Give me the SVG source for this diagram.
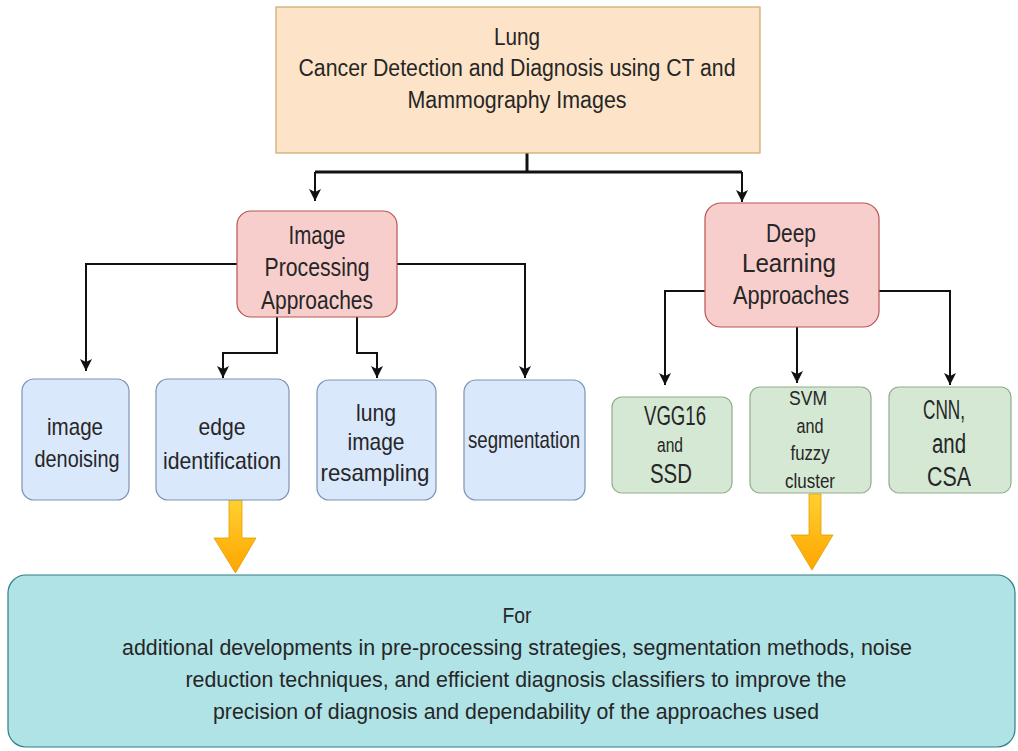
<svg xmlns="http://www.w3.org/2000/svg" width="1018" height="751" viewBox="0 0 1018 751">
  <defs>
    <style>
      text { font-family: "Liberation Sans", Arial, sans-serif; fill: #262626; text-anchor: middle; }
      .top { fill: #fde4c8; stroke: #c9a86c; stroke-width: 1.2; }
      .red { fill: #f8cecc; stroke: #b85450; stroke-width: 1.2; }
      .blue { fill: #dae8fc; stroke: #7d93b5; stroke-width: 1.2; }
      .green { fill: #d5e8d4; stroke: #8fae88; stroke-width: 1.2; }
      .teal { fill: #b0e3e6; stroke: #2f7f86; stroke-width: 1.2; }
      .conn { fill: none; stroke: #111; stroke-width: 2; }
      .thick { fill: none; stroke: #111; stroke-width: 3; }
      .big { fill: url(#ygrad); stroke: #e0a000; stroke-width: 0.8; }
    </style>
    <marker id="arr" markerUnits="userSpaceOnUse" markerWidth="12" markerHeight="12" viewBox="0 0 12 12" refX="12" refY="6" orient="auto">
      <path d="M0,0 L12,6 L0,12 L3,6 z" fill="#111"/>
    </marker>
    <linearGradient id="ygrad" x1="0" y1="0" x2="0" y2="1">
      <stop offset="0" stop-color="#ffd030"/>
      <stop offset="1" stop-color="#ffa500"/>
    </linearGradient>
  </defs>

  <g id="connectors">
    <path class="thick" d="M527,153 V172"/>
    <path class="thick" d="M315,172 H742"/>
    <path class="conn" d="M315,172 V201" marker-end="url(#arr)"/>
    <path class="conn" d="M742,172 V202" marker-end="url(#arr)"/>
    <path class="conn" d="M237,264 H86 V371" marker-end="url(#arr)"/>
    <path class="conn" d="M277,317 V353 H223 V378" marker-end="url(#arr)"/>
    <path class="conn" d="M357,317 V353 H377 V378" marker-end="url(#arr)"/>
    <path class="conn" d="M397,264 H525 V378" marker-end="url(#arr)"/>
    <path class="conn" d="M705,291 H665 V385" marker-end="url(#arr)"/>
    <path class="conn" d="M797,327 V383" marker-end="url(#arr)"/>
    <path class="conn" d="M879,291 H950 V385" marker-end="url(#arr)"/>
    <path id="bigarrow1" class="big" d="M229,500 H242 V538 H256 L235.5,573 L214,538 H229 Z"/>
    <path id="bigarrow2" class="big" d="M809,494 H821 V535 H833 L812,570 L791,535 H809 Z"/>
  </g>

  <g id="node-root">
    <rect class="top" x="276" y="7" width="484" height="146"/>
    <text x="517" y="45" font-size="23" textLength="46" lengthAdjust="spacingAndGlyphs">Lung</text>
    <text x="517" y="76" font-size="23" textLength="437" lengthAdjust="spacingAndGlyphs">Cancer Detection and Diagnosis using CT and</text>
    <text x="517" y="108" font-size="23" textLength="219" lengthAdjust="spacingAndGlyphs">Mammography Images</text>
  </g>

  <g id="node-image-processing">
    <rect class="red" x="237" y="211" width="160" height="106" rx="14"/>
    <text x="317" y="244" font-size="26" textLength="57" lengthAdjust="spacingAndGlyphs">Image</text>
    <text x="317" y="276" font-size="26" textLength="105" lengthAdjust="spacingAndGlyphs">Processing</text>
    <text x="317" y="309" font-size="26" textLength="112" lengthAdjust="spacingAndGlyphs">Approaches</text>
  </g>

  <g id="node-deep-learning">
    <rect class="red" x="705" y="203" width="174" height="124" rx="16"/>
    <text x="791" y="242" font-size="26" textLength="50" lengthAdjust="spacingAndGlyphs">Deep</text>
    <text x="789" y="272" font-size="26" textLength="94" lengthAdjust="spacingAndGlyphs">Learning</text>
    <text x="791" y="304" font-size="26" textLength="116" lengthAdjust="spacingAndGlyphs">Approaches</text>
  </g>

  <g id="node-denoising">
    <rect class="blue" x="22" y="379" width="107" height="121" rx="12"/>
    <text x="75" y="435" font-size="24" textLength="56" lengthAdjust="spacingAndGlyphs">image</text>
    <text x="77" y="467" font-size="24" textLength="85" lengthAdjust="spacingAndGlyphs">denoising</text>
  </g>

  <g id="node-edge">
    <rect class="blue" x="156" y="379" width="133" height="121" rx="12"/>
    <text x="222" y="435" font-size="24" textLength="47" lengthAdjust="spacingAndGlyphs">edge</text>
    <text x="222" y="469" font-size="24" textLength="118" lengthAdjust="spacingAndGlyphs">identification</text>
  </g>

  <g id="node-resampling">
    <rect class="blue" x="317" y="380" width="119" height="120" rx="12"/>
    <text x="376" y="421" font-size="24" textLength="40" lengthAdjust="spacingAndGlyphs">lung</text>
    <text x="376" y="450" font-size="24" textLength="57" lengthAdjust="spacingAndGlyphs">image</text>
    <text x="375" y="481" font-size="24" textLength="109" lengthAdjust="spacingAndGlyphs">resampling</text>
  </g>

  <g id="node-segmentation">
    <rect class="blue" x="464" y="380" width="121" height="120" rx="12"/>
    <text x="524" y="448" font-size="24" textLength="112" lengthAdjust="spacingAndGlyphs">segmentation</text>
  </g>

  <g id="node-vgg">
    <rect class="green" x="612" y="397" width="120" height="96" rx="10"/>
    <text x="675" y="425" font-size="27" textLength="62" lengthAdjust="spacingAndGlyphs">VGG16</text>
    <text x="670" y="452" font-size="20" textLength="26" lengthAdjust="spacingAndGlyphs">and</text>
    <text x="671" y="483" font-size="27" textLength="42" lengthAdjust="spacingAndGlyphs">SSD</text>
  </g>

  <g id="node-svm">
    <rect class="green" x="750" y="387" width="121" height="106" rx="10"/>
    <text x="808" y="405" font-size="20" textLength="38" lengthAdjust="spacingAndGlyphs">SVM</text>
    <text x="810" y="433" font-size="20" textLength="27" lengthAdjust="spacingAndGlyphs">and</text>
    <text x="810" y="460" font-size="20" textLength="39" lengthAdjust="spacingAndGlyphs">fuzzy</text>
    <text x="810" y="488" font-size="20" textLength="50" lengthAdjust="spacingAndGlyphs">cluster</text>
  </g>

  <g id="node-cnn">
    <rect class="green" x="889" y="387" width="122" height="106" rx="10"/>
    <text x="944" y="419" font-size="27" textLength="42" lengthAdjust="spacingAndGlyphs">CNN,</text>
    <text x="949" y="453" font-size="27" textLength="34" lengthAdjust="spacingAndGlyphs">and</text>
    <text x="949" y="486" font-size="27" textLength="44" lengthAdjust="spacingAndGlyphs">CSA</text>
  </g>

  <g id="node-conclusion">
    <rect class="teal" x="8" y="575" width="1007" height="172" rx="18"/>
    <text x="517" y="623" font-size="22" textLength="29" lengthAdjust="spacingAndGlyphs">For</text>
    <text x="517" y="655" font-size="22" textLength="790" lengthAdjust="spacingAndGlyphs">additional developments in pre-processing strategies, segmentation methods, noise</text>
    <text x="516" y="687" font-size="22" textLength="661" lengthAdjust="spacingAndGlyphs">reduction techniques, and efficient diagnosis classifiers to improve the</text>
    <text x="516" y="719" font-size="22" textLength="606" lengthAdjust="spacingAndGlyphs">precision of diagnosis and dependability of the approaches used</text>
  </g>
</svg>
